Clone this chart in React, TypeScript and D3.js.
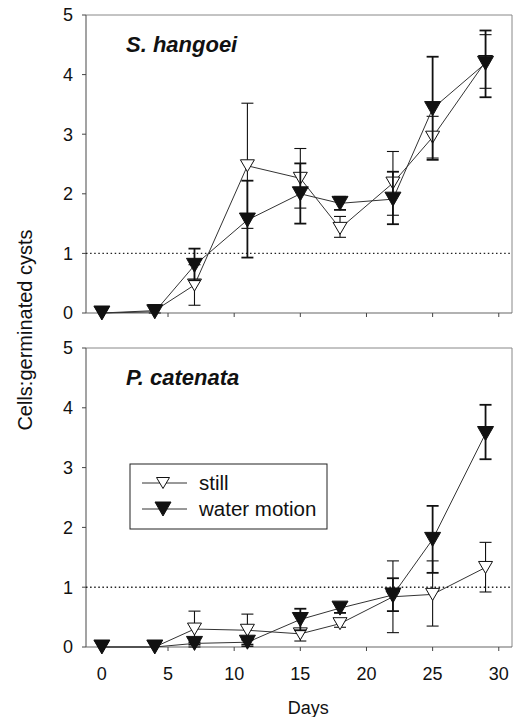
import React from "react";
import * as d3 from "d3";

const days = [0, 4, 7, 11, 15, 18, 22, 25, 29];

// S. hangoei
const shStill = [0, 0.04, 0.47, 2.47, 2.26, 1.42, 2.18, 2.95, 4.22];
const shStillHi = [0, 0.13, 0.81, 3.52, 2.76, 1.62, 2.71, 3.3, 4.67];
const shStillLo = [0, 0.0, 0.13, 1.42, 1.76, 1.27, 1.64, 2.6, 3.77];
const shWater = [0, 0.02, 0.8, 1.56, 2.0, 1.84, 1.91, 3.43, 4.19];
const shWaterHi = [0, 0.02, 1.08, 2.22, 2.51, 1.95, 2.37, 4.3, 4.74];
const shWaterLo = [0, 0.02, 0.55, 0.93, 1.5, 1.73, 1.49, 2.57, 3.62];

// P. catenata
const pcStill = [0, 0, 0.3, 0.28, 0.22, 0.39, 0.84, 0.88, 1.33];
const pcStillHi = [0, 0, 0.6, 0.55, 0.3, 0.45, 1.44, 1.44, 1.75];
const pcStillLo = [0, 0, 0.0, 0.01, 0.1, 0.33, 0.24, 0.35, 0.92];
const pcWater = [0, 0, 0.06, 0.08, 0.46, 0.65, 0.87, 1.8, 3.57];
const pcWaterHi = [0, 0, 0.08, 0.12, 0.64, 0.73, 1.15, 2.36, 4.05];
const pcWaterLo = [0, 0, 0.04, 0.04, 0.28, 0.57, 0.6, 1.24, 3.14];

const xTicks = [0, 5, 10, 15, 20, 25, 30];
const yTicks = [0, 1, 2, 3, 4, 5];
const legendLabels = ["still", "water motion"];
const yLabel = "Cells:germinated cysts";
const xLabel = "Days";

const FONT = "'Liberation Sans', Arial, Helvetica, sans-serif";
const W = 514;
const H = 717;

const x = d3.scaleLinear().domain([-1.2, 31]).range([86, 512]);

const tri = (w: number, h: number) =>
  `M${-w / 2},${-h / 2}L${w / 2},${-h / 2}L0,${h / 2}Z`;

type Series = { mean: number[]; hi: number[]; lo: number[]; filled: boolean };

function Panel({
  top,
  bottom,
  title,
  series,
  showXLabels,
}: {
  top: number;
  bottom: number;
  title: string;
  series: Series[];
  showXLabels: boolean;
}) {
  const y = d3.scaleLinear().domain([0, 5]).range([bottom, top]);
  const line = d3
    .line<[number, number]>()
    .x((d) => x(d[0]))
    .y((d) => y(d[1]));
  const left = x.range()[0];
  const right = x.range()[1];
  return (
    <g>
      {/* frame */}
      <line x1={left} x2={right} y1={top} y2={top} stroke="#888" strokeWidth={1} />
      <line x1={right} x2={right} y1={top} y2={bottom} stroke="#888" strokeWidth={1} />
      <line x1={left} x2={left} y1={top} y2={bottom} stroke="#666" strokeWidth={1.2} />
      <line x1={left} x2={right} y1={bottom} y2={bottom} stroke="#666" strokeWidth={1.2} />
      {/* y ticks */}
      {yTicks.map((t) => (
        <g key={"y" + t}>
          <line x1={left - 4} x2={left} y1={y(t)} y2={y(t)} stroke="#444" />
          <text
            x={left - 13}
            y={y(t)}
            dy="0.36em"
            textAnchor="end"
            fontSize={18}
            fontFamily={FONT}
            fill="#111"
          >
            {t}
          </text>
        </g>
      ))}
      {/* x ticks */}
      {xTicks.map((t) => (
        <g key={"x" + t}>
          <line x1={x(t)} x2={x(t)} y1={bottom} y2={bottom + 4} stroke="#444" />
          {showXLabels && (
            <text
              x={x(t)}
              y={bottom + 33}
              textAnchor="middle"
              fontSize={18}
              fontFamily={FONT}
              fill="#111"
            >
              {t}
            </text>
          )}
        </g>
      ))}
      {/* reference line */}
      <line
        x1={left}
        x2={right}
        y1={y(1)}
        y2={y(1)}
        stroke="#222"
        strokeWidth={1.4}
        strokeDasharray="1.5,2.6"
      />
      {/* title */}
      <text
        x={126}
        y={top + 37}
        fontSize={22}
        fontWeight="bold"
        fontStyle="italic"
        fontFamily={FONT}
        fill="#111"
      >
        {title}
      </text>
      {series.map((s, si) => (
        <g key={si}>
          <path
            d={line(days.map((d, i) => [d, s.mean[i]]) as [number, number][]) || ""}
            fill="none"
            stroke="#333"
            strokeWidth={1}
          />
          {days.map((d, i) => {
            if (s.hi[i] - s.lo[i] < 0.001) return null;
            const sw = s.filled ? 1.8 : 1.1;
            return (
              <g key={"e" + i} stroke="#111" strokeWidth={sw}>
                <line x1={x(d)} x2={x(d)} y1={y(s.hi[i])} y2={y(s.lo[i])} />
                <line x1={x(d) - 6} x2={x(d) + 6} y1={y(s.hi[i])} y2={y(s.hi[i])} />
                <line x1={x(d) - 6} x2={x(d) + 6} y1={y(s.lo[i])} y2={y(s.lo[i])} />
              </g>
            );
          })}
          {days.map((d, i) => (
            <path
              key={"m" + i}
              d={s.filled ? tri(16, 14) : tri(14, 12)}
              transform={`translate(${x(d)},${y(s.mean[i])})`}
              fill={s.filled ? "#111" : "#fff"}
              stroke="#111"
              strokeWidth={1}
            />
          ))}
        </g>
      ))}
    </g>
  );
}

export default function App() {
  const legendY = [483, 509];
  return (
    <svg
      width={W}
      height={H}
      style={{ position: "absolute", left: 0, top: 0, background: "#fff" }}
    >
      <rect width={W} height={H} fill="#fff" />
      <Panel
        top={15}
        bottom={313}
        title="S. hangoei"
        showXLabels={false}
        series={[
          { mean: shStill, hi: shStillHi, lo: shStillLo, filled: false },
          { mean: shWater, hi: shWaterHi, lo: shWaterLo, filled: true },
        ]}
      />
      <Panel
        top={348}
        bottom={647}
        title="P. catenata"
        showXLabels={true}
        series={[
          { mean: pcStill, hi: pcStillHi, lo: pcStillLo, filled: false },
          { mean: pcWater, hi: pcWaterHi, lo: pcWaterLo, filled: true },
        ]}
      />
      {/* legend */}
      <rect x={130} y={464} width={197} height={65} fill="#fff" stroke="#222" strokeWidth={1} />
      {legendLabels.map((lab, i) => (
        <g key={lab}>
          <line x1={142} x2={187} y1={legendY[i]} y2={legendY[i]} stroke="#333" strokeWidth={1} />
          <path
            d={i === 0 ? tri(13, 11) : tri(16, 14)}
            transform={`translate(163,${legendY[i]})`}
            fill={i === 0 ? "#fff" : "#111"}
            stroke="#111"
            strokeWidth={1}
          />
          <text
            x={199}
            y={legendY[i]}
            dy="0.36em"
            fontSize={20.5}
            fontFamily={FONT}
            fill="#111"
          >
            {lab}
          </text>
        </g>
      ))}
      {/* axis titles */}
      <text
        transform="translate(25,330) rotate(-90)"
        textAnchor="middle"
        dy="0.36em"
        fontSize={20}
        fontFamily={FONT}
        fill="#111"
      >
        {yLabel}
      </text>
      <text x={x(15.6)} y={714} textAnchor="middle" fontSize={18} fontFamily={FONT} fill="#111">
        {xLabel}
      </text>
    </svg>
  );
}
